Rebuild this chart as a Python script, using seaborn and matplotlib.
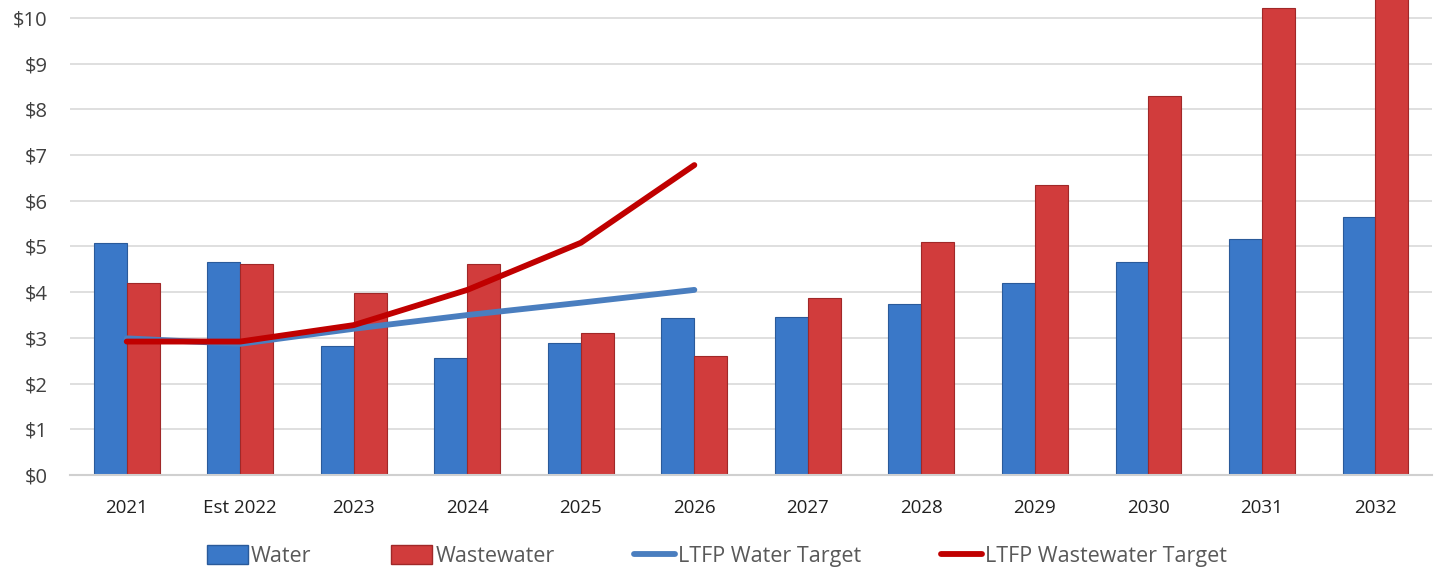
import numpy as np
import pandas as pd
import matplotlib
matplotlib.use("Agg")
import matplotlib.pyplot as plt
import seaborn as sns
from matplotlib.patches import Patch
from matplotlib.lines import Line2D

years = ["2021", "Est 2022", "2023", "2024", "2025", "2026",
         "2027", "2028", "2029", "2030", "2031", "2032"]
water = [5.07, 4.67, 2.82, 2.55, 2.88, 3.43, 3.45, 3.74, 4.19, 4.67, 5.16, 5.64]
wastewater = [4.19, 4.62, 3.98, 4.62, 3.10, 2.61, 3.88, 5.09, 6.35, 8.29, 10.21, 11.0]
target_years = ["2021", "Est 2022", "2023", "2024", "2025", "2026"]
ltfp_water = [2.99, 2.87, 3.20, 3.50, 3.77, 4.05]
ltfp_wastewater = [2.92, 2.92, 3.28, 4.05, 5.08, 6.78]
yticks = [0, 1, 2, 3, 4, 5, 6, 7, 8, 9, 10]

sns.set_theme(style="white")
plt.rcParams['font.family'] = ['Open Sans', 'DejaVu Sans']

df = pd.DataFrame({
    "Year": years * 2,
    "Value": water + wastewater,
    "Series": ["Water"] * len(years) + ["Wastewater"] * len(years),
})

fig = plt.figure(figsize=(14.37, 5.71), dpi=100)
ax = fig.add_axes([0.0487, 0.168, 0.948, 0.832])

blue = "#3a78c8"
red = "#d13c3c"
sns.barplot(data=df, x="Year", y="Value", hue="Series", order=years,
            hue_order=["Water", "Wastewater"], palette=[blue, red],
            width=0.58, gap=0, ax=ax, legend=False, saturation=1)
for i, p in enumerate(ax.patches):
    p.set_edgecolor("#2a5a9a" if i < len(years) else "#a02828")
    p.set_linewidth(0.8)

xpos = [years.index(y) for y in target_years]
sns.lineplot(x=xpos, y=ltfp_water, color="#4a7ebf", lw=4.2, ax=ax,
             solid_capstyle="round", zorder=5)
sns.lineplot(x=xpos, y=ltfp_wastewater, color="#c00000", lw=4.2, ax=ax,
             solid_capstyle="round", zorder=6)

ax.set_xlim(-0.5, len(years) - 0.5)
ax.set_ylim(0, 10.39)
ax.set_yticks(yticks)
ax.set_yticklabels([f"${v}" for v in yticks])
ax.yaxis.grid(True, color="#d9d9d9", lw=1.2)
ax.set_axisbelow(True)
for s in ["left", "right", "top"]:
    ax.spines[s].set_visible(False)
ax.spines["bottom"].set_color("#d0d0d0")
ax.spines["bottom"].set_linewidth(1.5)
ax.set_xlabel("")
ax.set_ylabel("")
ax.tick_params(axis="y", labelsize=14.5, colors="#404040", length=0, pad=16)
ax.tick_params(axis="x", labelsize=13.5, colors="#202020", length=0, pad=17)

handles = [
    Patch(facecolor=blue, edgecolor="#2a5a9a", label="Water"),
    Patch(facecolor=red, edgecolor="#a02828", label="Wastewater"),
    Line2D([0], [0], color="#4a7ebf", lw=4.2, label="LTFP Water Target"),
    Line2D([0], [0], color="#c00000", lw=4.2, label="LTFP Wastewater Target"),
]
leg = fig.legend(handles=handles, loc="center", bbox_to_anchor=(0.499, 0.026),
                 ncol=4, frameon=False, fontsize=15.5, handlelength=1.9,
                 handleheight=1.0, handletextpad=0.15, columnspacing=3.7,
                 labelcolor="#595959")

fig.savefig("out.png", dpi=100)
